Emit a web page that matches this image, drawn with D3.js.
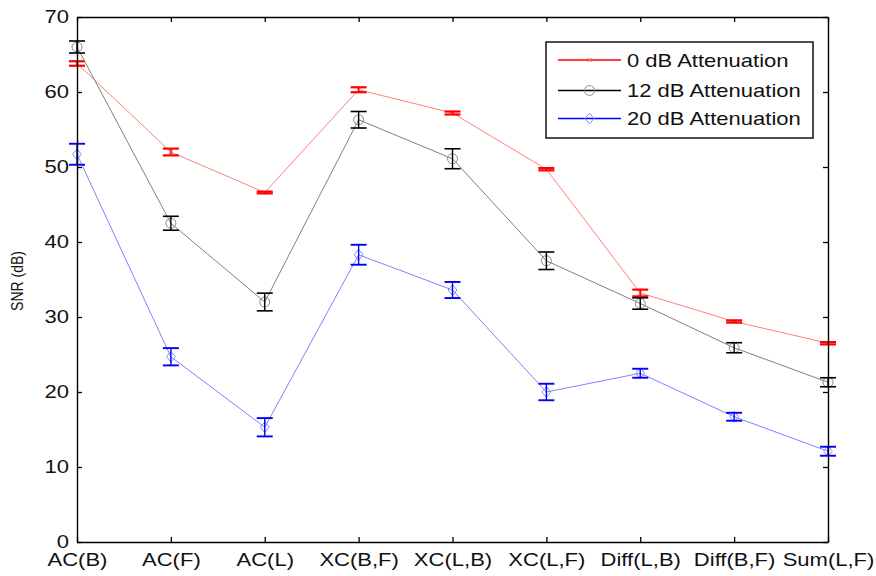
<!DOCTYPE html>
<html>
<head>
<meta charset="utf-8">
<script src="https://cdn.jsdelivr.net/npm/d3@7"></script>
<style>
  html, body { margin: 0; padding: 0; background: #fff; }
  svg { display: block; }
  text { font-family: "Liberation Sans", Arial, sans-serif; fill: #111; }
</style>
</head>
<body>
<svg id="chart" width="876" height="576"></svg>
<script>
const categories = ["AC(B)", "AC(F)", "AC(L)", "XC(B,F)", "XC(L,B)", "XC(L,F)", "Diff(L,B)", "Diff(B,F)", "Sum(L,F)"];
const yTicks = [0, 10, 20, 30, 40, 50, 60, 70];

const seriesNames = ["0 dB Attenuation", "12 dB Attenuation", "20 dB Attenuation"];
const snr0 = [63.8, 52.0, 46.6, 60.3, 57.2, 49.7, 33.2, 29.4, 26.5];
const err0 = [0.3, 0.45, 0.12, 0.33, 0.2, 0.15, 0.45, 0.15, 0.15];
const snr12 = [66.0, 42.5, 32.0, 56.3, 51.1, 37.5, 31.8, 25.9, 21.3];
const err12 = [0.8, 0.93, 1.18, 1.1, 1.33, 1.17, 0.76, 0.67, 0.6];
const snr20 = [51.7, 24.7, 15.3, 38.3, 33.6, 20.0, 22.5, 16.7, 12.1];
const err20 = [1.4, 1.15, 1.22, 1.33, 1.07, 1.1, 0.6, 0.53, 0.6];

const svg = d3.select("#chart");
const mLeft = 77, mRight = 828, mTop = 17, mBottom = 542;
const FS = 18.5, SX = 1.19;

const x = d3.scalePoint().domain(categories).range([mLeft, mRight]);
const y = d3.scaleLinear().domain([0, 70]).range([mBottom, mTop]);

const series = [
  { name: seriesNames[0], vals: snr0, errs: err0, line: "#ff8080", bar: "#ff0000", marker: "x", barW: 2.2 },
  { name: seriesNames[1], vals: snr12, errs: err12, line: "#808080", bar: "#000000", marker: "circle", barW: 1.6 },
  { name: seriesNames[2], vals: snr20, errs: err20, line: "#8080ff", bar: "#0000ff", marker: "diamond", barW: 1.9 }
];
const markerColor = { x: "#ff6060", circle: "#8a8a8a", diamond: "#8a8aff" };

function drawMarker(g, type, cx, cy, color) {
  if (type === "circle") {
    g.append("circle").attr("cx", cx).attr("cy", cy).attr("r", 5)
      .attr("fill", "none").attr("stroke", color).attr("stroke-width", 1);
  } else if (type === "diamond") {
    const s = 5.5;
    g.append("path").attr("d", `M${cx},${cy - s}L${cx + s * 0.8},${cy}L${cx},${cy + s}L${cx - s * 0.8},${cy}Z`)
      .attr("fill", "none").attr("stroke", color).attr("stroke-width", 1);
  } else {
    const s = 2;
    g.append("path").attr("d", `M${cx - s},${cy - s}L${cx + s},${cy + s}M${cx - s},${cy + s}L${cx + s},${cy - s}`)
      .attr("fill", "none").attr("stroke", color).attr("stroke-width", 1);
  }
}

const plot = svg.append("g");
const line = d3.line().x((d, i) => x(categories[i])).y(d => y(d));

series.forEach(s => {
  plot.append("path").datum(s.vals).attr("d", line)
    .attr("fill", "none").attr("stroke", s.line).attr("stroke-width", 1);
  const g = plot.append("g");
  s.vals.forEach((v, i) => {
    const cx = x(categories[i]);
    drawMarker(g, s.marker, cx, y(v), markerColor[s.marker]);
    const y1 = y(v + s.errs[i]), y2 = y(v - s.errs[i]);
    const cw = 8;
    g.append("line").attr("x1", cx).attr("x2", cx).attr("y1", y1).attr("y2", y2)
      .attr("stroke", s.bar).attr("stroke-width", 1.4);
    g.append("line").attr("x1", cx - cw).attr("x2", cx + cw).attr("y1", y1).attr("y2", y1)
      .attr("stroke", s.bar).attr("stroke-width", s.barW);
    g.append("line").attr("x1", cx - cw).attr("x2", cx + cw).attr("y1", y2).attr("y2", y2)
      .attr("stroke", s.bar).attr("stroke-width", s.barW);
  });
});

// Axes (MATLAB-style box with inward ticks)
const xAxis = svg.append("g").attr("transform", `translate(0,${mBottom})`)
  .call(d3.axisBottom(x).tickSizeInner(-5).tickSizeOuter(0).tickPadding(11));
const xTop = svg.append("g").attr("transform", `translate(0,${mTop})`)
  .call(d3.axisTop(x).tickSizeInner(-5).tickSizeOuter(0).tickFormat(""));
const yAxis = svg.append("g").attr("transform", `translate(${mLeft},0)`)
  .call(d3.axisLeft(y).tickValues(yTicks).tickSizeInner(-5).tickSizeOuter(0).tickPadding(8));
const yRight = svg.append("g").attr("transform", `translate(${mRight},0)`)
  .call(d3.axisRight(y).tickValues(yTicks).tickSizeInner(-5).tickSizeOuter(0).tickFormat(""));

[xAxis, xTop, yAxis, yRight].forEach(a => {
  a.selectAll(".domain").attr("stroke", "#000").attr("stroke-width", 1.4);
  a.selectAll(".tick line").attr("stroke", "#000").attr("stroke-width", 1.3);
  a.selectAll("text").style("font-family", '"Liberation Sans", Arial, sans-serif')
    .style("font-size", FS + "px").attr("fill", "#111");
});
// horizontally stretched glyphs, as in the reference
xAxis.selectAll(".tick text").attr("transform", `scale(${SX},1)`);
yAxis.selectAll(".tick text").attr("x", 0).attr("transform", `translate(-8,0) scale(${SX},1)`);

// Y label
svg.append("text")
  .attr("transform", `translate(23,${281}) rotate(-90) scale(1,${SX})`)
  .attr("text-anchor", "middle")
  .style("font-size", "14px")
  .text("SNR (dB)");

// Legend
const lg = svg.append("g");
lg.append("rect").attr("x", 546).attr("y", 42).attr("width", 267).attr("height", 96)
  .attr("fill", "#fff").attr("stroke", "#000").attr("stroke-width", 1.4);
const legendColors = ["#ff0000", "#000000", "#0000ff"];
const legendY = [60, 90.5, 118.5];
series.forEach((s, i) => {
  const ly = legendY[i];
  lg.append("line").attr("x1", 558).attr("x2", 621).attr("y1", ly).attr("y2", ly)
    .attr("stroke", legendColors[i]).attr("stroke-width", 1.3);
  drawMarker(lg, s.marker, 589.5, ly, markerColor[s.marker]);
  lg.append("text").attr("x", 0).attr("y", ly).attr("dy", "0.36em")
    .attr("transform", `translate(627,0) scale(${SX},1)`)
    .style("font-size", FS + "px").text(s.name);
});
</script>
</body>
</html>
